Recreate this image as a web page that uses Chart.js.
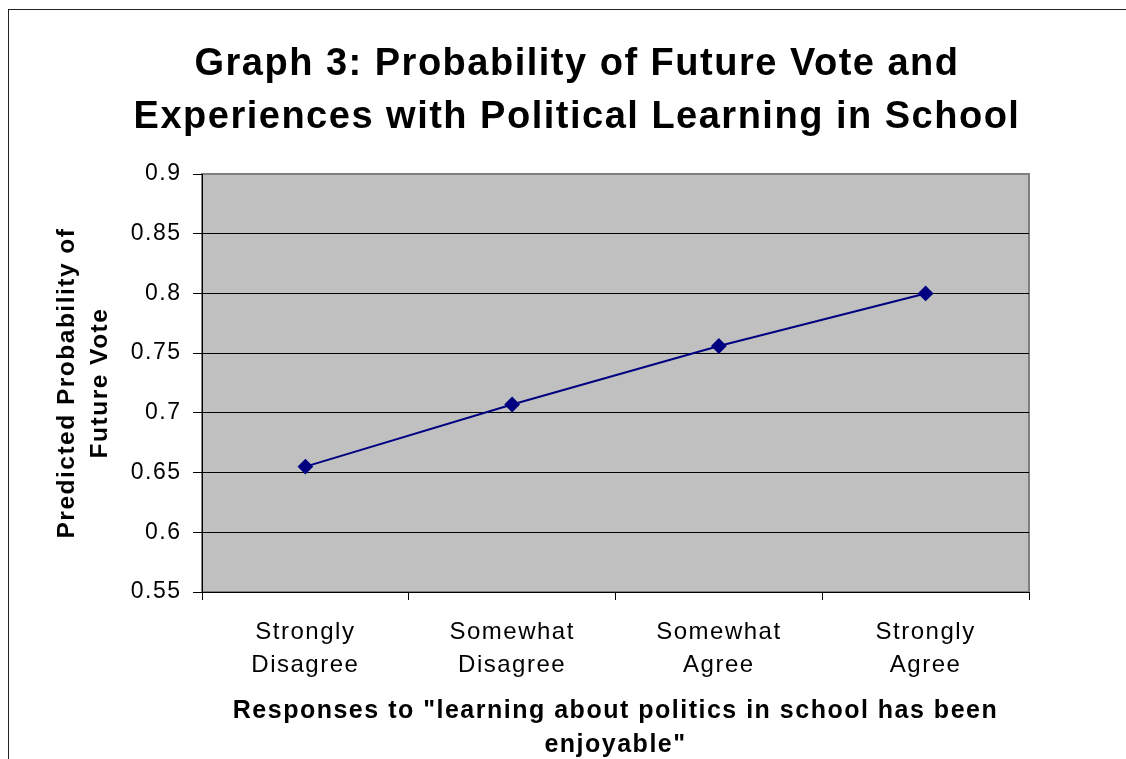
<!DOCTYPE html>
<html>
<head>
<meta charset="utf-8">
<script src="https://cdn.jsdelivr.net/npm/chart.js@4.4.1/dist/chart.umd.min.js"></script>
<style>
html,body{margin:0;padding:0;background:#fff;}
#wrap{width:1126px;height:759px;position:relative;}
</style>
</head>
<body>
<div id="wrap"><canvas id="c" width="1126" height="759"></canvas></div>
<script>
const categories = [["Strongly","Disagree"],["Somewhat","Disagree"],["Somewhat","Agree"],["Strongly","Agree"]];
const probabilities = [0.655, 0.707, 0.756, 0.800];
const titleLines = ["Graph 3: Probability of Future Vote and", "Experiences with Political Learning in School"];
const yTitleLines = ["Predicted Probability of", "Future Vote"];
const xTitleLines = ["Responses to \"learning about politics in school has been", "enjoyable\""];
const yMin = 0.55, yMax = 0.9, yStep = 0.05;

const FONT = "'Liberation Sans', Arial, sans-serif";
const SPACING = '1.5px';

const framePlugin = {
  id: 'frame',
  beforeLayout(chart) { chart.ctx.letterSpacing = SPACING; },
  beforeDraw(chart) {
    const {ctx, chartArea: a} = chart;
    ctx.save();
    ctx.fillStyle = '#ffffff';
    ctx.fillRect(0, 0, chart.width, chart.height);
    ctx.strokeStyle = '#222';
    ctx.lineWidth = 1;
    ctx.strokeRect(8.5, 9.5, 1300, 900);
    ctx.fillStyle = '#c0c0c0';
    ctx.fillRect(a.left, a.top, a.right - a.left, a.bottom - a.top);
    ctx.strokeStyle = '#808080';
    ctx.lineWidth = 2;
    ctx.strokeRect(a.left, a.top, a.right - a.left, a.bottom - a.top);
    ctx.restore();
    ctx.letterSpacing = SPACING;
  }
};

new Chart(document.getElementById('c'), {
  type: 'line',
  data: {
    labels: categories,
    datasets: [{
      data: probabilities,
      borderColor: '#000080',
      backgroundColor: '#000080',
      borderWidth: 2,
      pointStyle: 'rectRot',
      pointRadius: 6.5,
      pointHoverRadius: 6.5,
      pointBackgroundColor: '#000080',
      pointBorderColor: '#000080',
      tension: 0,
      fill: false
    }]
  },
  options: {
    responsive: false,
    animation: false,
    devicePixelRatio: 1,
    events: [],
    layout: { padding: { left: 28, right: 0, top: 0, bottom: 0 } },
    plugins: {
      legend: { display: false },
      tooltip: { enabled: false },
      title: {
        display: true,
        text: titleLines,
        color: '#000',
        font: { family: FONT, size: 38, weight: 'bold', lineHeight: 1.4 },
        padding: { top: 38, bottom: 29.6 }
      }
    },
    scales: {
      x: {
        type: 'category',
        offset: true,
        afterFit(scale) { scale.height = 167; },
        grid: {
          offset: true,
          drawOnChartArea: false,
          drawTicks: true,
          tickLength: 8,
          tickColor: '#000',
          color: '#000'
        },
        border: { display: true, color: '#000', width: 1 },
        ticks: {
          color: '#000',
          font: { family: FONT, size: 24, lineHeight: 1.375 },
          padding: 15.5,
          maxRotation: 0,
          autoSkip: false
        },
        title: {
          display: true,
          text: xTitleLines,
          color: '#000',
          font: { family: FONT, size: 25, weight: 'bold', lineHeight: 1.36 },
          padding: { top: 0, bottom: -3 }
        }
      },
      y: {
        min: yMin,
        max: yMax,
        afterFit(scale) { scale.width = 174; },
        grid: {
          color: (c) => (c.tick && Math.abs(c.tick.value - yMax) < 1e-9) ? '#808080' : '#000',
          lineWidth: 1,
          tickLength: 9,
          tickColor: '#000',
          drawTicks: true
        },
        border: { display: true, color: '#000', width: 1 },
        ticks: {
          stepSize: yStep,
          color: '#000',
          font: { family: FONT, size: 23 },
          padding: 11.5,
          callback: (v) => String(Math.round(v * 100) / 100)
        },
        title: {
          display: true,
          text: yTitleLines,
          color: '#000',
          font: { family: FONT, size: 24.5, weight: 'bold', lineHeight: 1.347 },
          padding: { top: 22.5, bottom: 0 }
        }
      },
      yRight: {
        type: 'linear',
        position: 'right',
        display: true,
        afterFit(scale) { scale.width = 97; },
        grid: { display: false, drawTicks: false },
        border: { display: false },
        ticks: { display: false },
        title: { display: false }
      }
    }
  },
  plugins: [framePlugin]
});
</script>
</body>
</html>
